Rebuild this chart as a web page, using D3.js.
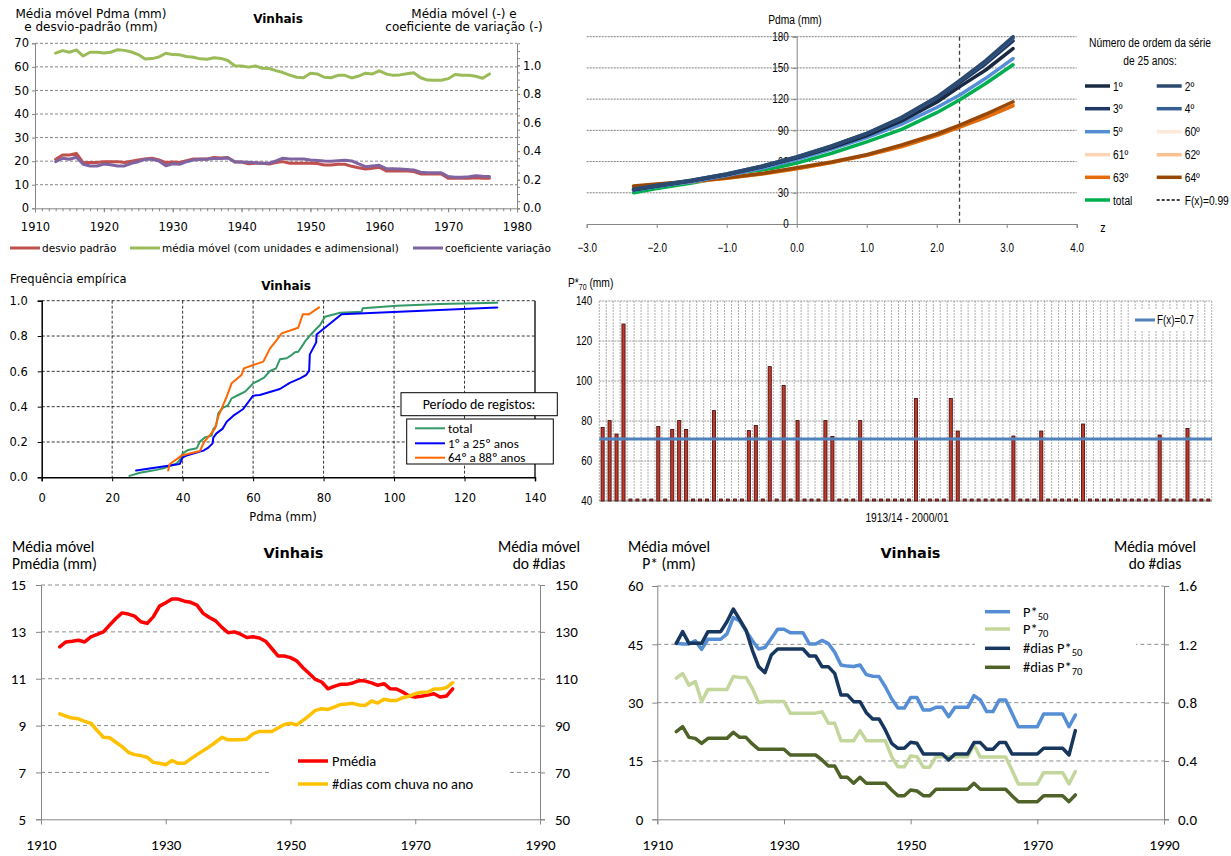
<!DOCTYPE html>
<html>
<head>
<meta charset="utf-8">
<script src="https://cdn.jsdelivr.net/npm/d3@7"></script>
<style>
  body { margin: 0; background: #fff; }
  svg { display: block; }
</style>
</head>
<body>
<svg id="chart" width="1231" height="856"></svg>
<script>
// ---------- data ----------
const firstYear = 1913, lastYear = 1976;

// Panel 1: moving statistics of annual daily maximum (Pdma)
const mediaMovel = [65.8, 66.9, 66.2, 67.2, 64.6, 66.2, 66.2, 65.9, 66.2, 67.3,
  67.0, 66.3, 65.2, 63.3, 63.5, 64.2, 65.8, 65.2, 65.1, 64.4,
  64.1, 63.4, 63.2, 63.9, 63.6, 62.7, 60.5, 60.4, 59.9, 60.4,
  59.4, 59.3, 58.4, 57.6, 56.5, 55.6, 55.4, 57.3, 57.0, 55.6,
  55.4, 56.4, 56.4, 55.3, 56.1, 57.3, 57.0, 58.3, 57.0, 56.4,
  56.6, 57.1, 57.5, 55.4, 54.4, 54.3, 54.3, 55.0, 56.8, 56.4,
  56.4, 56.0, 55.2, 57.0];
const desvioPadrao = [20.8, 22.6, 22.6, 23.3, 19.4, 19.4, 19.4, 19.8, 19.8, 19.8,
  19.4, 20.0, 20.5, 20.9, 21.2, 20.5, 19.4, 19.6, 19.4, 20.2,
  20.9, 20.9, 20.9, 21.6, 21.3, 21.6, 19.6, 19.6, 18.9, 19.1,
  19.1, 18.8, 19.4, 19.8, 19.1, 19.1, 19.1, 19.1, 19.0, 18.4,
  18.4, 18.7, 18.7, 17.8, 17.2, 16.7, 17.0, 17.4, 15.8, 15.8,
  15.8, 15.8, 15.6, 14.6, 14.6, 14.6, 14.6, 12.8, 12.7, 12.7,
  12.8, 13.0, 12.7, 12.8];
const coefVariacao = [0.326, 0.350, 0.343, 0.357, 0.308, 0.296, 0.296, 0.310, 0.305, 0.296,
  0.296, 0.315, 0.326, 0.343, 0.343, 0.331, 0.298, 0.312, 0.308, 0.326,
  0.338, 0.343, 0.343, 0.348, 0.348, 0.352, 0.326, 0.324, 0.322, 0.319,
  0.315, 0.315, 0.331, 0.350, 0.345, 0.345, 0.345, 0.338, 0.334, 0.330,
  0.329, 0.333, 0.336, 0.331, 0.310, 0.291, 0.296, 0.301, 0.277, 0.276,
  0.274, 0.272, 0.268, 0.253, 0.249, 0.249, 0.249, 0.222, 0.218, 0.217,
  0.220, 0.228, 0.224, 0.222];

// Panel 2: Pdma quantiles vs standard normal variate z, per 25-year series
const zValues = [-2.33, -2.0, -1.5, -1.0, -0.5, 0.0, 0.5, 1.0, 1.5, 2.0, 2.33, 2.7, 3.09];
const serieNames = ["60º", "61º", "62º", "63º", "64º", "5º", "1º", "3º", "4º", "2º", "total"];
const serieColors = ["#fde9d9", "#fcd5b5", "#fac090", "#e46c0a", "#974806", "#558ed5", "#1b2a44", "#1f3864", "#376092", "#2c4a70", "#00b050"];
const serie60 = [36.0, 38.0, 41.0, 44.5, 48.5, 53.5, 59.5, 66.5, 75.0, 86.0, 94.5, 105.0, 116.5];
const serie61 = [36.0, 38.0, 41.0, 44.5, 48.5, 53.5, 59.5, 66.5, 75.0, 86.0, 94.5, 104.5, 116.0];
const serie62 = [35.5, 37.5, 40.5, 44.0, 48.0, 53.0, 59.0, 66.0, 74.5, 85.5, 94.0, 104.0, 115.0];
const serie63 = [35.5, 37.5, 40.5, 44.0, 48.0, 53.0, 59.0, 66.0, 74.5, 85.0, 93.0, 102.5, 113.5];
const serie64 = [36.5, 38.5, 41.0, 44.5, 48.5, 54.0, 59.5, 66.5, 76.0, 86.5, 95.0, 105.5, 117.5];
const serie5 = [32.5, 36.0, 40.5, 46.5, 53.5, 62.0, 72.0, 83.0, 96.0, 112.0, 124.0, 140.0, 159.0];
const serie1 = [33.0, 36.5, 41.5, 47.5, 55.0, 63.5, 73.5, 85.0, 99.0, 117.0, 132.0, 148.0, 168.5];
const serie3 = [33.0, 36.5, 41.5, 47.5, 55.0, 64.0, 74.5, 86.5, 101.5, 120.5, 136.0, 154.0, 176.0];
const serie4 = [33.5, 37.0, 42.0, 48.0, 55.5, 64.5, 75.0, 87.0, 102.0, 121.5, 137.5, 156.0, 178.5];
const serie2 = [33.5, 37.0, 42.0, 48.0, 55.5, 64.5, 75.0, 87.0, 102.5, 122.0, 138.0, 157.0, 180.0];
const serieTotal = [30.0, 34.0, 39.5, 45.5, 51.0, 58.5, 68.0, 79.0, 91.0, 107.0, 119.5, 135.0, 153.0];
const zF099 = 2.326;
const legend2Rows = [["1º", "2º"], ["3º", "4º"], ["5º", "60º"], ["61º", "62º"], ["63º", "64º"], ["total", "F(x)=0.99"]];
const legend2Colors = [["#1b2a44", "#2c4a70"], ["#1f3864", "#376092"], ["#558ed5", "#fde9d9"], ["#fcd5b5", "#fac090"], ["#e46c0a", "#974806"], ["#00b050", "dash"]];

// Panel 3: empirical frequency of Pdma
const cdfTotalX = [24.9, 27.9, 30.7, 32.6, 34.5, 36.4, 38.3, 39.2, 40.0, 41.6, 44.0, 44.9, 46.3, 48.2, 48.7, 49.5, 50.1, 51.3, 52.9, 53.9, 55.8, 57.7, 59.1, 60.0, 61.9, 63.1, 64.8, 66.5, 67.6, 69.5, 70.9, 71.9, 72.8, 73.8, 74.7, 76.3, 77.6, 79.0, 80.4, 84.7, 90.8, 91.1, 100.8, 113.1, 129.3];
const cdfTotalF = [0.008, 0.026, 0.036, 0.042, 0.051, 0.064, 0.079, 0.098, 0.136, 0.155, 0.164, 0.202, 0.225, 0.236, 0.272, 0.291, 0.362, 0.391, 0.409, 0.447, 0.466, 0.485, 0.513, 0.532, 0.551, 0.564, 0.602, 0.617, 0.668, 0.674, 0.692, 0.708, 0.711, 0.740, 0.768, 0.806, 0.834, 0.862, 0.909, 0.932, 0.938, 0.957, 0.972, 0.981, 0.989];
const cdfFirstX = [26.8, 38.3, 39.2, 40.0, 41.1, 45.9, 47.3, 48.5, 48.7, 49.6, 51.3, 52.5, 54.4, 57.2, 58.6, 60.0, 61.9, 67.6, 70.4, 73.3, 75.0, 75.9, 76.1, 77.9, 78.0, 85.1, 129.3];
const cdfFirstF = [0.038, 0.072, 0.076, 0.113, 0.123, 0.151, 0.168, 0.192, 0.225, 0.249, 0.274, 0.315, 0.349, 0.387, 0.425, 0.462, 0.466, 0.500, 0.535, 0.560, 0.579, 0.602, 0.696, 0.764, 0.809, 0.923, 0.962];
const cdfLastX = [35.9, 36.1, 36.4, 39.7, 44.9, 46.1, 47.8, 49.2, 50.1, 51.1, 52.5, 53.9, 56.7, 57.4, 60.0, 62.9, 64.8, 66.7, 68.1, 72.8, 74.1, 75.9, 78.7];
const cdfLastF = [0.038, 0.060, 0.075, 0.123, 0.149, 0.200, 0.240, 0.277, 0.343, 0.390, 0.457, 0.532, 0.579, 0.617, 0.636, 0.655, 0.730, 0.777, 0.815, 0.847, 0.923, 0.923, 0.962];

// Panel 4: P*70 per hydrological year 1913/14 - 2000/01 (41 = below-threshold stub)
const p70Bars = [76.8, 80.2, 73.5, 128.5, 41, 41, 41, 41, 77.3, 41,
  75.8, 80.2, 75.8, 41, 41, 41, 85.2, 41, 41, 41,
  41, 75.2, 77.8, 41, 107.2, 41, 97.8, 41, 80.2, 41,
  41, 41, 80.2, 72.3, 41, 41, 41, 80.2, 41, 41,
  41, 41, 41, 41, 41, 91.3, 41, 41, 41, 41,
  91.3, 75.0, 41, 41, 41, 41, 41, 41, 41, 72.5,
  41, 41, 41, 75.0, 41, 41, 41, 41, 41, 78.5,
  41, 41, 41, 41, 41, 41, 41, 41, 41, 41,
  73.0, 41, 41, 41, 76.3, 41, 41, 41];
const p70Threshold = 71;

// Panel 5: moving mean of Pmédia and of number of rainy days
const pMedia = [12.36, 12.57, 12.6, 12.64, 12.57, 12.79, 12.89, 13.0, 13.29, 13.57,
  13.81, 13.76, 13.67, 13.43, 13.36, 13.64, 14.1, 14.24, 14.4, 14.4,
  14.31, 14.26, 14.14, 13.79, 13.61, 13.47, 13.19, 12.96, 13.0, 12.9,
  12.76, 12.79, 12.74, 12.6, 12.29, 11.97, 11.97, 11.9, 11.76, 11.47,
  11.22, 10.97, 10.86, 10.57, 10.67, 10.76, 10.76, 10.82, 10.92, 10.9,
  10.82, 10.72, 10.79, 10.57, 10.56, 10.43, 10.26, 10.22, 10.25, 10.3,
  10.36, 10.22, 10.26, 10.57];
const diasChuva = [95.0, 94.0, 93.2, 92.9, 91.8, 91.0, 87.9, 85.0, 84.8, 82.9,
  81.0, 78.6, 77.6, 77.2, 76.5, 74.3, 73.9, 73.3, 75.1, 73.9,
  73.9, 75.8, 77.6, 79.3, 81.0, 82.9, 85.0, 83.9, 83.9, 83.9,
  84.3, 86.5, 87.5, 87.5, 87.5, 89.0, 90.5, 91.0, 90.3, 92.2,
  94.3, 96.5, 97.2, 96.9, 97.9, 99.0, 99.2, 99.5, 98.8, 98.6,
  100.5, 99.6, 101.2, 100.7, 100.7, 101.9, 102.5, 103.6, 104.2, 104.3,
  105.6, 105.6, 106.2, 108.3];

// Panel 6: moving mean of P*50, P*70 and days above them
const pStar50 = [45.3, 45.1, 45.1, 45.9, 43.7, 46.3, 46.3, 46.3, 47.7, 51.9,
  51.0, 48.5, 46.0, 43.8, 44.2, 46.5, 48.9, 48.9, 48.0, 48.0,
  48.0, 45.1, 45.1, 46.0, 45.2, 43.0, 39.7, 39.4, 39.3, 39.7,
  37.2, 36.8, 36.7, 34.1, 31.0, 28.6, 28.6, 31.3, 31.3, 28.1,
  28.1, 28.8, 28.8, 26.4, 28.8, 28.8, 28.8, 31.8, 30.7, 27.7,
  27.7, 30.7, 30.7, 27.3, 23.8, 23.8, 23.8, 23.8, 27.1, 27.1,
  27.1, 27.1, 23.8, 26.8];
const pStar70 = [36.3, 37.5, 34.5, 35.4, 30.3, 33.4, 33.4, 33.4, 33.4, 36.7,
  36.5, 36.5, 33.7, 30.0, 30.3, 30.3, 30.3, 30.3, 27.3, 27.3,
  27.3, 27.3, 27.3, 27.7, 24.7, 24.7, 20.2, 20.2, 20.2, 22.8,
  20.2, 20.2, 20.2, 20.2, 16.1, 13.5, 13.5, 16.3, 16.1, 13.4,
  13.4, 16.1, 16.1, 16.1, 16.1, 16.1, 16.1, 19.1, 16.0, 16.0,
  16.0, 16.0, 16.0, 12.7, 9.1, 9.1, 9.1, 9.1, 12.0, 12.0,
  12.0, 12.0, 9.1, 12.3];
const diasP50 = [1.207, 1.287, 1.207, 1.207, 1.207, 1.287, 1.287, 1.287, 1.355, 1.442,
  1.371, 1.298, 1.161, 1.047, 1.006, 1.127, 1.168, 1.168, 1.168, 1.168,
  1.168, 1.120, 1.120, 1.047, 1.047, 1.001, 0.853, 0.853, 0.807, 0.807,
  0.731, 0.688, 0.688, 0.613, 0.521, 0.487, 0.487, 0.528, 0.521, 0.448,
  0.448, 0.448, 0.448, 0.407, 0.448, 0.448, 0.448, 0.526, 0.526, 0.480,
  0.480, 0.526, 0.526, 0.448, 0.448, 0.448, 0.448, 0.448, 0.487, 0.487,
  0.487, 0.487, 0.441, 0.608];
const diasP70 = [0.601, 0.635, 0.562, 0.555, 0.521, 0.555, 0.555, 0.555, 0.555, 0.597,
  0.562, 0.562, 0.517, 0.480, 0.480, 0.480, 0.480, 0.480, 0.441, 0.441,
  0.441, 0.441, 0.441, 0.407, 0.366, 0.366, 0.288, 0.288, 0.247, 0.288,
  0.247, 0.247, 0.247, 0.247, 0.201, 0.162, 0.162, 0.201, 0.194, 0.162,
  0.162, 0.206, 0.206, 0.206, 0.206, 0.206, 0.206, 0.247, 0.206, 0.206,
  0.206, 0.206, 0.206, 0.162, 0.121, 0.121, 0.121, 0.121, 0.162, 0.162,
  0.162, 0.162, 0.121, 0.167];

// ---------- drawing ----------
const FV = "'DejaVu Sans', Verdana, sans-serif";
const FN = "'Liberation Sans', Arial, sans-serif";   // drawn horizontally condensed
const NARROW = 0.82;
const FC = "Carlito, Calibri, Lato, sans-serif";
const AXIS_GREY = "#868686";

const svg = d3.select("#chart");
const years = d3.range(firstYear, lastYear + 1);

function text(g, x, y, s, o = {}) {
  const t = g.append("text").text(s)
    .attr("font-family", o.f || FV).attr("font-size", o.s || 11)
    .attr("font-weight", o.w || "normal").attr("text-anchor", o.a || "start")
    .attr("fill", o.c || "#000");
  if (o.narrow) t.attr("x", 0).attr("y", 0).attr("transform", `translate(${x},${y}) scale(${NARROW},1)`);
  else t.attr("x", x).attr("y", y);
  return t;
}
function styleAxis(g, o) {
  g.select(".domain").attr("stroke", o.line || AXIS_GREY).attr("stroke-width", o.lw || 1);
  g.selectAll(".tick line").attr("stroke", o.line || AXIS_GREY);
  g.selectAll(".tick text").attr("font-family", o.f).attr("font-size", o.s).attr("fill", "#000");
  if (o.narrow) {
    g.selectAll(".tick text").each(function () {
      const t = d3.select(this);
      const xx = +t.attr("x") || 0;
      t.attr("x", xx / NARROW).attr("transform", `scale(${NARROW},1)`);
    });
  }
  if (o.noDomain) g.select(".domain").remove();
}
function hGrid(g, vals, y, x0, x1, o = {}) {
  g.append("g").selectAll("line").data(vals).join("line")
    .attr("x1", x0).attr("x2", x1).attr("y1", d => y(d)).attr("y2", d => y(d))
    .attr("stroke", o.c || AXIS_GREY).attr("stroke-width", o.w || 1)
    .attr("stroke-dasharray", o.dash || "3,2");
}
function series(g, xs, ys, x, y, color, width) {
  const pts = xs.map((d, i) => [x(d), y(ys[i])]);
  g.append("path").attr("d", d3.line()(pts)).attr("fill", "none")
    .attr("stroke", color).attr("stroke-width", width)
    .attr("stroke-linejoin", "round").attr("stroke-linecap", "round");
}

// ===== Panel 1 =====
{
  const g = svg.append("g");
  const x = d3.scaleLinear().domain([1910, 1980]).range([35, 517]);
  const y = d3.scaleLinear().domain([0, 70]).range([208.3, 43.3]);
  const yr = d3.scaleLinear().domain([0, 1.154]).range([208.3, 43.3]);
  hGrid(g, [10, 20, 30, 40, 50, 60, 70], y, 35, 517, { dash: "3,2" });

  const ax = g.append("g").attr("transform", "translate(0,208.3)")
    .call(d3.axisBottom(x).tickValues(d3.range(1910, 1981, 10)).tickFormat(d3.format("d")).tickSize(4).tickPadding(11));
  styleAxis(ax, { f: FV, s: 11.5 });
  const axm = g.append("g").attr("transform", "translate(0,208.3)")
    .call(d3.axisBottom(x).tickValues(d3.range(1910, 1981, 1)).tickFormat("").tickSize(3));
  styleAxis(axm, { noDomain: true });
  const ay = g.append("g").attr("transform", "translate(35,0)")
    .call(d3.axisLeft(y).tickValues(d3.range(0, 71, 10)).tickSize(3).tickPadding(3));
  styleAxis(ay, { f: FV, s: 11.5 });
  const ayr = g.append("g").attr("transform", "translate(517,0)")
    .call(d3.axisRight(yr).tickValues([0, 0.2, 0.4, 0.6, 0.8, 1.0]).tickFormat(d3.format(".1f")).tickSize(3).tickPadding(3));
  styleAxis(ayr, { f: FV, s: 11.5 });
  const ayrm = g.append("g").attr("transform", "translate(517,0)")
    .call(d3.axisRight(yr).tickValues(d3.range(0, 23).map(i => i * 0.05)).tickFormat("").tickSize(3));
  styleAxis(ayrm, { noDomain: true });

  series(g, years, mediaMovel, x, y, "#9bbb59", 3);
  series(g, years, desvioPadrao, x, y, "#c0504d", 3);
  series(g, years, coefVariacao, x, yr, "#8064a2", 3);

  text(g, 278, 23, "Vinhais", { w: "bold", s: 12, a: "middle" });
  text(g, 91, 18, "Média móvel Pdma (mm)", { s: 12, a: "middle" });
  text(g, 91, 31, "e desvio-padrão (mm)", { s: 12, a: "middle" });
  text(g, 464, 18, "Média móvel (-) e", { s: 12, a: "middle" });
  text(g, 464, 31, "coeficiente de variação (-)", { s: 12, a: "middle" });

  const leg = [[10, "#c0504d", "desvio padrão"], [130, "#9bbb59", "média móvel (com unidades e adimensional)"], [413, "#8064a2", "coeficiente variação"]];
  leg.forEach(([lx, c, t]) => {
    g.append("line").attr("x1", lx).attr("x2", lx + 30).attr("y1", 248).attr("y2", 248).attr("stroke", c).attr("stroke-width", 3);
    text(g, lx + 32, 252, t, { s: 10.5 });
  });
}

// ===== Panel 2 =====
{
  const g = svg.append("g");
  const x = d3.scaleLinear().domain([-3, 4]).range([586.7, 1076.7]);
  const y = d3.scaleLinear().domain([0, 180]).range([224, 36.7]);
  hGrid(g, [30, 60, 90, 120, 150, 180], y, 586.7, 1076.7, { c: "#7f7f7f", dash: "2,1" });

  const ax = g.append("g").attr("transform", "translate(0,224)")
    .call(d3.axisBottom(x).tickValues(d3.range(-3, 5, 1)).tickFormat(d3.format(".1f")).tickSize(4).tickPadding(15));
  styleAxis(ax, { f: FN, s: 12, narrow: true });
  const ay = g.append("g").attr("transform", "translate(" + x(0) + ",0)")
    .call(d3.axisLeft(y).tickValues(d3.range(0, 181, 30)).tickSize(4).tickPadding(4));
  styleAxis(ay, { f: FN, s: 12, narrow: true });

  // F(x)=0.99 marker
  g.append("line").attr("x1", x(zF099)).attr("x2", x(zF099)).attr("y1", y(180)).attr("y2", y(0))
    .attr("stroke", "#404040").attr("stroke-width", 1.3).attr("stroke-dasharray", "4,3");

  const data2 = [serie60, serie61, serie62, serie63, serie64, serie5, serie1, serie3, serie4, serie2, serieTotal];
  // total goes first so the blue curves stay on top where they meet
  const order = [10, 0, 1, 2, 3, 4, 5, 6, 7, 8, 9];
  order.forEach(i => series(g, zValues, data2[i], x, y, serieColors[i], 3.5));

  text(g, 795, 24, "Pdma (mm)", { f: FN, s: 12.5, a: "middle", narrow: true });
  text(g, 1103, 232, "z", { f: FN, s: 13, a: "middle", narrow: true });

  text(g, 1150, 47, "Número de ordem da série", { f: FN, s: 12.5, a: "middle", narrow: true });
  text(g, 1150, 65, "de 25 anos:", { f: FN, s: 12.5, a: "middle", narrow: true });
  const rowY = [86, 108.7, 131.7, 154.7, 177.3, 200];
  const colX = [1085, 1156.7];
  legend2Rows.forEach((row, r) => row.forEach((name, c) => {
    const col = legend2Colors[r][c];
    const ln = g.append("line").attr("x1", colX[c]).attr("x2", colX[c] + 25).attr("y1", rowY[r]).attr("y2", rowY[r]);
    if (col === "dash") ln.attr("stroke", "#000").attr("stroke-width", 1.3).attr("stroke-dasharray", "3,2");
    else ln.attr("stroke", col).attr("stroke-width", 3.5);
    text(g, colX[c] + 28, rowY[r] + 4.5, name, { f: FN, s: 12.5, narrow: true });
  }));
}

// ===== Panel 3 =====
{
  const g = svg.append("g");
  const x = d3.scaleLinear().domain([0, 140]).range([41.7, 535]);
  const y = d3.scaleLinear().domain([0, 1]).range([477.3, 300.7]);
  hGrid(g, [0.2, 0.4, 0.6, 0.8, 1.0], y, 41.7, 535, { c: "#000", w: 0.8, dash: "3,2" });
  g.append("g").selectAll("line").data([20, 40, 60, 80, 100, 120]).join("line")
    .attr("x1", d => x(d)).attr("x2", d => x(d)).attr("y1", 300.7).attr("y2", 477.3)
    .attr("stroke", "#000").attr("stroke-width", 0.8).attr("stroke-dasharray", "3,2");
  g.append("line").attr("x1", 535).attr("x2", 535).attr("y1", 300.7).attr("y2", 477.3).attr("stroke", "#000").attr("stroke-width", 1.3);

  const ax = g.append("g").attr("transform", "translate(0,477.3)")
    .call(d3.axisBottom(x).tickValues(d3.range(0, 141, 20)).tickSize(4).tickPadding(13));
  styleAxis(ax, { f: FV, s: 11.5, line: "#000", lw: 1.5 });
  const ay = g.append("g").attr("transform", "translate(41.7,0)")
    .call(d3.axisLeft(y).tickValues(d3.range(0, 1.01, 0.2)).tickFormat(d3.format(".1f")).tickSize(4).tickPadding(10));
  styleAxis(ay, { f: FV, s: 11.5, line: "#000", lw: 1.5 });

  series(g, cdfTotalX, cdfTotalF, x, y, "#339966", 2);
  series(g, cdfFirstX, cdfFirstF, x, y, "#0000ff", 2);
  series(g, cdfLastX, cdfLastF, x, y, "#ff6600", 2);

  text(g, 10, 283, "Frequência empírica", { s: 11.5 });
  text(g, 286, 290, "Vinhais", { w: "bold", s: 12, a: "middle" });
  text(g, 283, 521, "Pdma (mm)", { s: 11.5, a: "middle" });

  // legend
  g.append("rect").attr("x", 401).attr("y", 392.7).attr("width", 156.3).attr("height", 23)
    .attr("fill", "#fff").attr("stroke", "#000").attr("stroke-width", 1);
  text(g, 479, 409, "Período de registos:", { f: FC, s: 14, a: "middle" });
  g.append("rect").attr("x", 406.7).attr("y", 419).attr("width", 146.6).attr("height", 45)
    .attr("fill", "#fff").attr("stroke", "#000").attr("stroke-width", 1);
  [["#339966", "total", 428.3], ["#0000ff", "1º a 25º anos", 443.3], ["#ff6600", "64º a 88º anos", 457.7]].forEach(([c, t, ly]) => {
    g.append("line").attr("x1", 415).attr("x2", 445).attr("y1", ly).attr("y2", ly).attr("stroke", c).attr("stroke-width", 2);
    text(g, 448, ly + 4.5, t, { f: FC, s: 13 });
  });
}

// ===== Panel 4 =====
{
  const g = svg.append("g");
  const x = d3.scaleBand().domain(d3.range(p70Bars.length)).range([599.3, 1211.7]).paddingInner(0.55).paddingOuter(0.25);
  const y = d3.scaleLinear().domain([40, 140]).range([501, 301]);
  const x0 = 599.3, w = 612.4 / p70Bars.length;
  g.append("g").selectAll("line").data(d3.range(p70Bars.length + 1)).join("line")
    .attr("x1", i => x0 + i * w).attr("x2", i => x0 + i * w)
    .attr("y1", 301).attr("y2", 501).attr("stroke", "#9a9a9a").attr("stroke-width", 0.8).attr("stroke-dasharray", "2,1");
  hGrid(g, [60, 80, 100, 120, 140], y, 599.3, 1212, { c: "#9a9a9a", dash: "2,1" });

  const ay = g.append("g").attr("transform", "translate(599.3,0)")
    .call(d3.axisLeft(y).tickValues(d3.range(40, 141, 20)).tickSize(0).tickPadding(7));
  styleAxis(ay, { f: FN, s: 12, noDomain: true, narrow: true });
  g.append("line").attr("x1", 599.3).attr("x2", 1212).attr("y1", y(40)).attr("y2", y(40)).attr("stroke", AXIS_GREY);

  g.append("g").selectAll("rect").data(p70Bars).join("rect")
    .attr("x", (d, i) => x(i)).attr("width", x.bandwidth())
    .attr("y", d => y(d)).attr("height", d => y(40) - y(d))
    .attr("fill", "#c0392b").attr("stroke", "#3a0a0a").attr("stroke-width", 0.8);

  g.append("line").attr("x1", 599.3).attr("x2", 1212).attr("y1", y(p70Threshold)).attr("y2", y(p70Threshold))
    .attr("stroke", "#4f81bd").attr("stroke-width", 3);

  g.append("rect").attr("x", 1130).attr("y", 310).attr("width", 64).attr("height", 20).attr("fill", "#fff");
  g.append("line").attr("x1", 1135).attr("x2", 1155).attr("y1", 320).attr("y2", 320).attr("stroke", "#4f81bd").attr("stroke-width", 3);
  text(g, 1157, 324, "F(x)=0.7", { f: FN, s: 12, narrow: true });

  const t = text(g, 568, 287, "P*", { f: FN, s: 12.5, narrow: true });
  t.append("tspan").attr("font-size", 8.5).attr("dy", 3).text("70");
  t.append("tspan").attr("dy", -3).text(" (mm)");
  text(g, 907, 522, "1913/14   -   2000/01", { f: FN, s: 12.5, a: "middle", narrow: true });
}

// ===== Panel 5 =====
{
  const g = svg.append("g");
  const x = d3.scaleLinear().domain([1910, 1990]).range([41, 540]);
  const y = d3.scaleLinear().domain([5, 15]).range([819.3, 585]);
  const yr = d3.scaleLinear().domain([50, 150]).range([819.3, 585]);
  hGrid(g, [7, 9, 11, 13, 15], y, 41, 540, { c: "#8c8c8c", dash: "4,3" });
  g.append("rect").attr("x", 272).attr("y", 748).attr("width", 238).attr("height", 48).attr("fill", "#fff");

  const ax = g.append("g").attr("transform", "translate(0,819.3)")
    .call(d3.axisBottom(x).tickValues(d3.range(1910, 1991, 20)).tickFormat(d3.format("d")).tickSize(5).tickPadding(15));
  styleAxis(ax, { f: FC, s: 15 });
  const ay = g.append("g").attr("transform", "translate(41,0)")
    .call(d3.axisLeft(y).tickValues(d3.range(5, 16, 2)).tickSize(5).tickPadding(10));
  styleAxis(ay, { f: FC, s: 15 });
  const ayr = g.append("g").attr("transform", "translate(540,0)")
    .call(d3.axisRight(yr).tickValues(d3.range(50, 151, 20)).tickSize(5).tickPadding(10));
  styleAxis(ayr, { f: FC, s: 15 });

  series(g, years, pMedia, x, y, "#ff0000", 3.5);
  series(g, years, diasChuva, x, yr, "#ffc000", 3.5);

  text(g, 293.5, 558, "Vinhais", { f: FV, w: "bold", s: 14.5, a: "middle" });
  text(g, 12, 552, "Média móvel", { f: FC, s: 15.5 });
  text(g, 12, 569, "Pmédia (mm)", { f: FC, s: 15.5 });
  text(g, 539, 552, "Média móvel", { f: FC, s: 15.5, a: "middle" });
  text(g, 539, 569, "do #dias", { f: FC, s: 15.5, a: "middle" });

  [["#ff0000", "Pmédia", 761], ["#ffc000", "#dias com chuva no ano", 784]].forEach(([c, t, ly]) => {
    g.append("line").attr("x1", 298).attr("x2", 328).attr("y1", ly).attr("y2", ly).attr("stroke", c).attr("stroke-width", 3.5);
    text(g, 332, ly + 5, t, { f: FC, s: 14.5 });
  });
}

// ===== Panel 6 =====
{
  const g = svg.append("g");
  const x = d3.scaleLinear().domain([1910, 1990]).range([657.3, 1164]);
  const y = d3.scaleLinear().domain([0, 60]).range([819.3, 586]);
  const yr = d3.scaleLinear().domain([0, 1.6]).range([819.3, 586]);
  hGrid(g, [15, 30, 45, 60], y, 657.3, 1164, { c: "#8c8c8c", dash: "4,3" });
  g.append("rect").attr("x", 975).attr("y", 598).attr("width", 161).attr("height", 80).attr("fill", "#fff");

  const ax = g.append("g").attr("transform", "translate(0,819.3)")
    .call(d3.axisBottom(x).tickValues(d3.range(1910, 1991, 20)).tickFormat(d3.format("d")).tickSize(5).tickPadding(15));
  styleAxis(ax, { f: FC, s: 15 });
  const ay = g.append("g").attr("transform", "translate(657.3,0)")
    .call(d3.axisLeft(y).tickValues(d3.range(0, 61, 15)).tickSize(5).tickPadding(9));
  styleAxis(ay, { f: FC, s: 15 });
  const ayr = g.append("g").attr("transform", "translate(1164,0)")
    .call(d3.axisRight(yr).tickValues([0, 0.4, 0.8, 1.2, 1.6]).tickFormat(d3.format(".1f")).tickSize(5).tickPadding(9));
  styleAxis(ayr, { f: FC, s: 15 });

  series(g, years, pStar50, x, y, "#558ed5", 3.5);
  series(g, years, pStar70, x, y, "#c3d69b", 3.5);
  series(g, years, diasP50, x, yr, "#17375e", 3.5);
  series(g, years, diasP70, x, yr, "#4f6228", 3.5);

  text(g, 910.5, 558, "Vinhais", { f: FV, w: "bold", s: 14.5, a: "middle" });
  text(g, 669, 552, "Média móvel", { f: FC, s: 15.5, a: "middle" });
  text(g, 669, 569, "P* (mm)", { f: FC, s: 15.5, a: "middle" });
  text(g, 1155, 552, "Média móvel", { f: FC, s: 15.5, a: "middle" });
  text(g, 1155, 569, "do #dias", { f: FC, s: 15.5, a: "middle" });

  [["#558ed5", "", "50", 611.7], ["#c3d69b", "", "70", 629], ["#17375e", "#dias ", "50", 648.3], ["#4f6228", "#dias ", "70", 667.3]].forEach(([c, pre, sub, ly]) => {
    g.append("line").attr("x1", 985).attr("x2", 1010).attr("y1", ly).attr("y2", ly).attr("stroke", c).attr("stroke-width", 3.5);
    const t = text(g, 1023, ly + 5, pre + "P*", { f: FC, s: 14.5 });
    t.append("tspan").attr("font-size", 10.5).attr("dy", 3).text(sub);
  });
}
</script>
</body>
</html>
